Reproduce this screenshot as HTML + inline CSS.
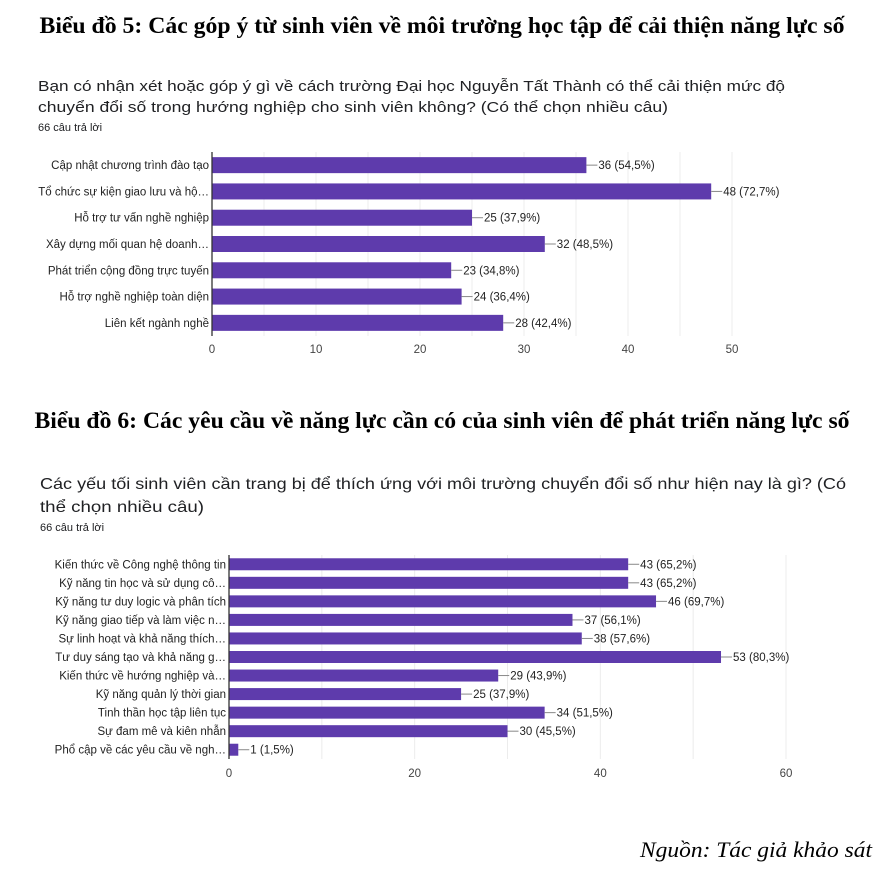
<!DOCTYPE html>
<html><head><meta charset="utf-8"><style>
body{margin:0;background:#fff;}
svg{display:block;}
text{font-family:"Liberation Sans",sans-serif;}
.ttl{font-family:"Liberation Serif",serif;font-weight:bold;font-size:23px;fill:#000;}
.sub{font-size:15px;fill:#202124;}
.cnt{font-size:11px;fill:#202124;}
.lab{font-size:11.5px;fill:#222;}
.val{font-size:11.5px;fill:#222;}
.tick{font-size:11.5px;fill:#444;}
</style></head><body>
<svg id="svg" width="884" height="870" xmlns="http://www.w3.org/2000/svg">
<text class="ttl" x="442" y="33" text-anchor="middle" textLength="805" lengthAdjust="spacingAndGlyphs">Biểu đồ 5: Các góp ý từ sinh viên về môi trường học tập để cải thiện năng lực số</text>
<text class="sub" x="38" y="91" textLength="747" lengthAdjust="spacingAndGlyphs">Bạn có nhận xét hoặc góp ý gì về cách trường Đại học Nguyễn Tất Thành có thể cải thiện mức độ</text>
<text class="sub" x="38" y="112" textLength="630" lengthAdjust="spacingAndGlyphs">chuyển đổi số trong hướng nghiệp cho sinh viên không? (Có thể chọn nhiều câu)</text>
<text class="cnt" x="38" y="131">66 câu trả lời</text>
<g id="c1"></g>
<text class="ttl" x="442" y="428" text-anchor="middle" textLength="815" lengthAdjust="spacingAndGlyphs">Biểu đồ 6: Các yêu cầu về năng lực cần có của sinh viên để phát triển năng lực số</text>
<text class="sub" x="40" y="489" style="font-size:16px" textLength="806" lengthAdjust="spacingAndGlyphs">Các yếu tối sinh viên cần trang bị để thích ứng với môi trường chuyển đổi số như hiện nay là gì? (Có</text>
<text class="sub" x="40" y="512" style="font-size:16px" textLength="164" lengthAdjust="spacingAndGlyphs">thể chọn nhiều câu)</text>
<text class="cnt" x="40" y="531">66 câu trả lời</text>
<g id="c2"></g>
<text x="872" y="857" text-anchor="end" style="font-family:'Liberation Serif',serif;font-style:italic;font-size:22px" textLength="232" lengthAdjust="spacingAndGlyphs">Nguồn: Tác giả khảo sát</text>
</svg>
<script>
const cats1 = ["Cập nhật chương trình đào tạo","Tổ chức sự kiện giao lưu và hộ…","Hỗ trợ tư vấn nghề nghiệp","Xây dựng mối quan hệ doanh…","Phát triển cộng đồng trực tuyến","Hỗ trợ nghề nghiệp toàn diện","Liên kết ngành nghề"];
const vals1 = [36,48,25,32,23,24,28];
const pcts1 = ["54,5%","72,7%","37,9%","48,5%","34,8%","36,4%","42,4%"];
const ticks1 = [0,10,20,30,40,50];
const cats2 = ["Kiến thức về Công nghệ thông tin","Kỹ năng tin học và sử dụng cô…","Kỹ năng tư duy logic và phân tích","Kỹ năng giao tiếp và làm việc n…","Sự linh hoạt và khả năng thích…","Tư duy sáng tạo và khả năng g…","Kiến thức về hướng nghiệp và…","Kỹ năng quản lý thời gian","Tinh thần học tập liên tục","Sự đam mê và kiên nhẫn","Phổ cập về các yêu cầu về ngh…"];
const vals2 = [43,43,46,37,38,53,29,25,34,30,1];
const pcts2 = ["65,2%","65,2%","69,7%","56,1%","57,6%","80,3%","43,9%","37,9%","51,5%","45,5%","1,5%"];
const ticks2 = [0,20,40,60];
const NS="http://www.w3.org/2000/svg";
function mk(g,tag,a,txt){const e=document.createElementNS(NS,tag);for(const k in a)e.setAttribute(k,a[k]);if(txt!==undefined)e.textContent=txt;g.appendChild(e);return e;}
function draw(id,cats,vals,pcts,ticks,o){
  const g=document.getElementById(id);
  const max=ticks[ticks.length-1];
  const x=v=>o.x0+(v/max)*(o.x1-o.x0);
  const step=(o.yb-o.yt)/cats.length;
  const y=i=>o.yt+step*(i+0.5);
  const minor=(ticks[1]-ticks[0])/2;
  for(let v=0;v<=max;v+=minor){
    const l=mk(g,'line',{x1:x(v),x2:x(v),y1:o.yt,y2:o.yb,stroke:'#ececec','stroke-width':1});
    
    
  }
  ticks.forEach(t=>{
    const e=mk(g,'text',{x:x(t),y:o.ty,'text-anchor':'middle',class:'tick'},t);
    
    
  });
  cats.forEach((c,i)=>{
    const lb=mk(g,'text',{x:o.x0-3,y:y(i)+4,'text-anchor':'end',class:'lab'},c);
    
    
    const r=mk(g,'rect',{x:o.x0,y:y(i)-o.bh/2,width:x(vals[i])-o.x0,height:o.bh,fill:'#5e3bac'});
    
    
    const ln=mk(g,'line',{x1:x(vals[i]),x2:x(vals[i])+11,y1:y(i),y2:y(i),stroke:'#888','stroke-width':1});
    
    
    const vt=mk(g,'text',{x:x(vals[i])+12,y:y(i)+4,class:'val'},vals[i]+' ('+pcts[i]+')');
    
    
  });
  const ax=mk(g,'line',{x1:o.x0,x2:o.x0,y1:o.yt,y2:o.yb,stroke:'#333','stroke-width':1.3});
  
  
}
draw('c1',cats1,vals1,pcts1,ticks1,{x0:212,x1:732,yt:152,yb:336,bh:16,ty:353});
draw('c2',cats2,vals2,pcts2,ticks2,{x0:229,x1:786,yt:555,yb:759,bh:12,ty:777});
</script>
</body></html>
